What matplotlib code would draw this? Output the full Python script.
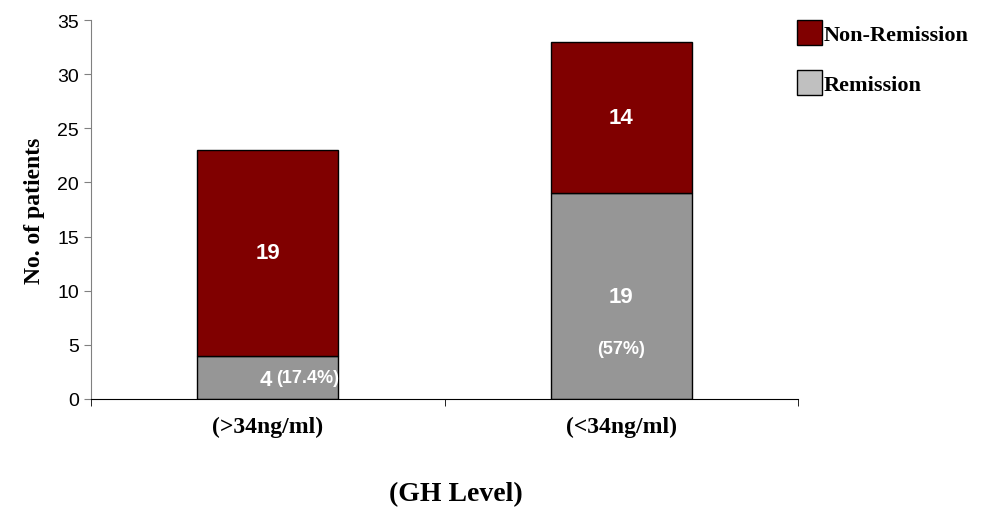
import numpy as np
import matplotlib.pyplot as plt
from matplotlib.patches import Patch

categories = ["(>34ng/ml)", "(<34ng/ml)"]
remission = [4, 19]
non_remission = [19, 14]
pct_labels = ["(17.4%)", "(57%)"]

serif = ["Liberation Serif", "DejaVu Serif"]
sans = ["Liberation Sans", "DejaVu Sans"]

fig = plt.figure(figsize=(9.95, 5.10), dpi=100)
ax = fig.add_axes([0.0915, 0.2157, 0.7105, 0.7431])

x = np.arange(len(categories))
w = 0.4
ax.bar(x, remission, w, color="#969696", edgecolor="black", linewidth=1)
ax.bar(x, non_remission, w, bottom=remission, color="#800000", edgecolor="black", linewidth=1)

# counts inside the bars
for i in range(len(categories)):
    ax.text(x[i], remission[i] + non_remission[i] / 2, str(non_remission[i]),
            ha="center", va="center", color="white", fontsize=16, fontweight="bold", family=sans)

# small remission segment: count and percent side by side
ax.text(x[0] - 0.005, remission[0] / 2 - 0.2, str(remission[0]), ha="center", va="center",
        color="white", fontsize=16, fontweight="bold", family=sans)
ax.text(x[0] + 0.025, remission[0] / 2, pct_labels[0],
        ha="left", va="center", color="white", fontsize=13, fontweight="bold", family=sans)
# tall remission segment: count above, percent below
ax.text(x[1], remission[1] / 2, str(remission[1]), ha="center", va="center",
        color="white", fontsize=16, fontweight="bold", family=sans)
ax.text(x[1], remission[1] / 2 - 4.8, pct_labels[1], ha="center", va="center",
        color="white", fontsize=13, fontweight="bold", family=sans)

ax.set_xlim(-0.5, 1.5)
ax.set_ylim(0, 35)
ax.set_yticks(range(0, 36, 5))
ax.set_xticks(x)
ax.set_xticklabels(categories, family=serif, fontweight="bold", fontsize=17)
ax.set_xticks([-0.5, 0.5, 1.5], minor=True)
ax.tick_params(axis="x", which="major", length=0, pad=12)
ax.tick_params(axis="x", which="minor", length=5, color="black")
ax.tick_params(axis="y", length=5, color="#808080", labelsize=14)
for lbl in ax.get_yticklabels():
    lbl.set_family(sans)

ax.spines["top"].set_visible(False)
ax.spines["right"].set_visible(False)
ax.spines["left"].set_color("#808080")
ax.spines["bottom"].set_color("black")

ax.set_ylabel("No. of patients", family=serif, fontweight="bold", fontsize=17, labelpad=9)
fig.text(0.4578, 0.03, "(GH Level)", ha="center", va="center", family=serif, fontweight="bold", fontsize=20)

handles = [Patch(facecolor="#800000", edgecolor="black", label="Non-Remission"),
           Patch(facecolor="#C0C0C0", edgecolor="black", label="Remission")]
fig.legend(handles=handles, loc="upper left", bbox_to_anchor=(0.781, 0.999), frameon=False,
           prop={"family": serif, "weight": "bold", "size": 16},
           handlelength=1.1, handleheight=1.4, labelspacing=1.1, handletextpad=0.1)

fig.savefig("out.png", dpi=100)
